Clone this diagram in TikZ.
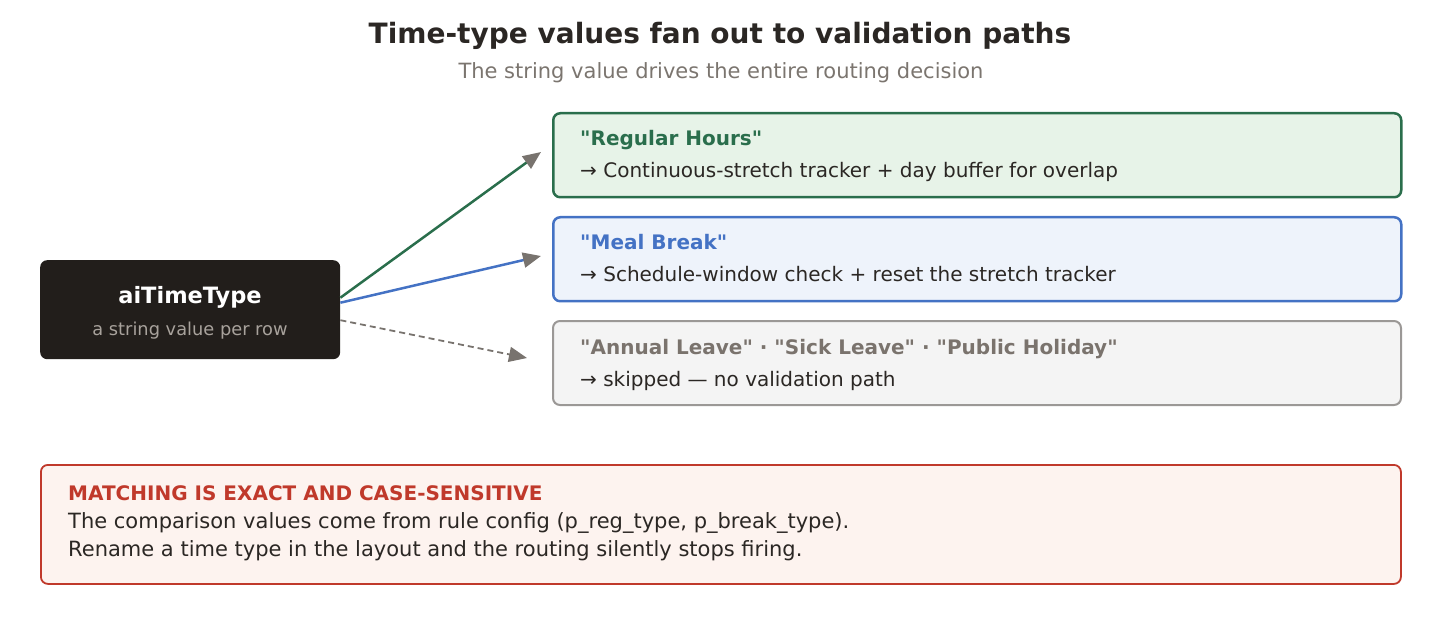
\documentclass[tikz,border=0pt]{standalone}
\usepackage{fontspec}
\setmainfont{DejaVu Sans}[Ligatures=TeXOff]
\usetikzlibrary{arrows.meta}
\definecolor{inkdark}{HTML}{2B2724}
\definecolor{inkgray}{HTML}{7B756F}
\definecolor{srcfill}{HTML}{221E1B}
\definecolor{srcsub}{HTML}{A8A29C}
\definecolor{reggreen}{HTML}{2A6E4C}
\definecolor{regfill}{HTML}{E7F3E8}
\definecolor{mealblue}{HTML}{4472C4}
\definecolor{mealfill}{HTML}{EEF3FB}
\definecolor{leavegray}{HTML}{9B9896}
\definecolor{leavefill}{HTML}{F4F4F4}
\definecolor{leaveink}{HTML}{7A736D}
\definecolor{warnred}{HTML}{C0392B}
\definecolor{warnfill}{HTML}{FDF3EF}
\definecolor{tipgray}{HTML}{78736E}
\tikzstyle{box}=[rectangle, rounded corners = 7pt, anchor = north west, inner sep = 0pt]
\tikzstyle{lbl}=[anchor = base west, inner sep = 0pt]
\tikzstyle{head}=[lbl, font = \fontsize{20}{24}\selectfont\bfseries]
\tikzstyle{body}=[lbl, font = \fontsize{20}{24}\selectfont, text = inkdark]
\tikzstyle{route}=[line width = 2.5pt, -{Triangle[length = 18pt, width = 15pt, color = tipgray]}]

\begin{document}
\begin{tikzpicture}[x = 1pt, y = -1pt]
\useasboundingbox (0, 0) rectangle (1440, 620);
\node (title) at (720, 44) [anchor = base, inner sep = 0pt, text = inkdark, font = \fontsize{28}{32}\selectfont\bfseries] {Time-type values fan out to validation paths};
\node (subtitle) at (721, 79) [anchor = base, inner sep = 0pt, text = inkgray, font = \fontsize{21}{25}\selectfont] {The string value drives the entire routing decision};
%%%%%%%%%%%%%%%%%%%%%%%
% source
\node (src) at (40, 260) [box, fill = srcfill, minimum width = 300pt, minimum height = 99pt] {};
\node (srcname) at (190, 303) [anchor = base, inner sep = 0pt, text = white, font = \fontsize{22.5}{26}\selectfont\bfseries] {aiTimeType};
\node (srcsub) at (190, 335) [anchor = base, inner sep = 0pt, text = srcsub, font = \fontsize{17.8}{21}\selectfont] {a string value per row};
%%%%%%%%%%%%%%%%%%%%%%%
% targets
\node (reg) at (552, 112) [box, draw = reggreen, fill = regfill, line width = 2.5pt, minimum width = 848pt, minimum height = 84pt] {};
\node (meal) at (552, 216) [box, draw = mealblue, fill = mealfill, line width = 2.5pt, minimum width = 848pt, minimum height = 84pt] {};
\node (leave) at (552, 320) [box, draw = leavegray, fill = leavefill, line width = 2pt, minimum width = 848pt, minimum height = 84pt] {};
\node (reghead) at (580, 146) [head, text = reggreen] {"Regular Hours"};
\node (regbody) at (580, 178) [body] {→ Continuous-stretch tracker + day buffer for overlap};
\node (mealhead) at (580, 250) [head, text = mealblue] {"Meal Break"};
\node (mealbody) at (580, 282) [body] {→ Schedule-window check + reset the stretch tracker};
\node (leavehead) at (580, 354) [head, text = leaveink] {"Annual Leave" · "Sick Leave" · "Public Holiday"};
\node (leavebody) at (580, 386) [body] {→ skipped — no validation path};
%%%%%%%%%%%%%%%%%%%%%%%
\coordinate (regin) at (541, 152);
\coordinate (mealin) at (541, 256);
\coordinate (leavein) at (527, 358);
\draw [route, color = reggreen] ([yshift = 12pt]src.east) to (regin);
\draw [route, color = mealblue] ([yshift = 7pt]src.east) to (mealin);
\draw [route, line width = 1.8pt, dash pattern = on 6pt off 4pt, color = tipgray] ([yshift = -10.5pt]src.east) to (leavein);
%%%%%%%%%%%%%%%%%%%%%%%
% warning
\node (warn) at (40, 464) [box, draw = warnred, fill = warnfill, line width = 1.8pt, minimum width = 1360pt, minimum height = 119pt] {};
\node (warnhead) at (68, 500) [lbl, text = warnred, font = \fontsize{20}{24}\selectfont\bfseries] {MATCHING IS EXACT AND CASE-SENSITIVE};
\node (warnone) at (68, 528) [lbl, text = inkdark, font = \fontsize{21}{25}\selectfont] {The comparison values come from rule config (p\_reg\_type, p\_break\_type).};
\node (warntwo) at (68, 556) [lbl, text = inkdark, font = \fontsize{21}{25}\selectfont] {Rename a time type in the layout and the routing silently stops firing.};
\end{tikzpicture}
\end{document}
